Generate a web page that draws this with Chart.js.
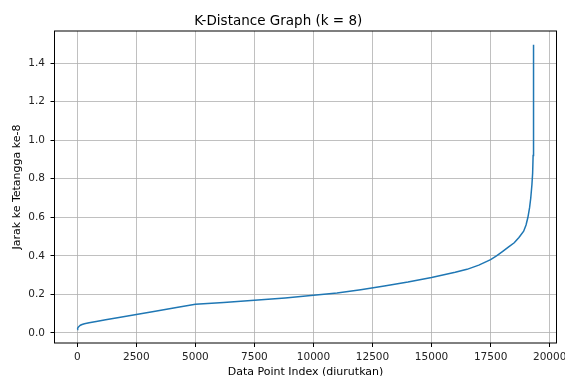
<!DOCTYPE html>
<html>
<head>
<meta charset="utf-8">
<script src="https://cdn.jsdelivr.net/npm/chart.js@4"></script>
<style>
  html, body { margin: 0; padding: 0; background: #fff; }
  #wrap { width: 565px; height: 376px; }
</style>
</head>
<body>
<div id="wrap"><canvas id="kdist" width="565" height="376"></canvas></div>
<script>
// sorted point index (x) and distance to 8th neighbour (y)
const pointIndex = [0, 15, 40, 80, 130, 200, 300, 500, 800, 1200, 1700, 2500, 3300, 4200, 5000,
  6200, 7500, 8800, 10000, 11000, 12000, 13000, 14000, 15000, 16000, 16500, 17000, 17500,
  17750, 18000, 18250, 18500, 18700, 18900, 19000, 19080, 19150, 19200, 19250, 19280,
  19300, 19310, 19318, 19325];
const kDistance = [0.018, 0.025, 0.030, 0.035, 0.040, 0.044, 0.048, 0.053, 0.060, 0.068, 0.079, 0.096, 0.113, 0.132, 0.149,
  0.158, 0.170, 0.182, 0.196, 0.207, 0.224, 0.243, 0.264, 0.288, 0.315, 0.330, 0.352, 0.380,
  0.400, 0.422, 0.445, 0.468, 0.495, 0.528, 0.560, 0.600, 0.650, 0.700, 0.770, 0.830,
  0.920, 1.020, 1.200, 1.495];

const xTickValues = [0, 2500, 5000, 7500, 10000, 12500, 15000, 17500, 20000];
const yTickValues = [0.0, 0.2, 0.4, 0.6, 0.8, 1.0, 1.2, 1.4];

Chart.defaults.font.family = 'DejaVu Sans';
Chart.defaults.color = '#222';

const frameBox = {
  id: 'frameBox',
  afterDraw(chart) {
    const a = chart.chartArea, ctx = chart.ctx;
    ctx.save();
    ctx.strokeStyle = '#000';
    ctx.lineWidth = 1;
    ctx.strokeRect(a.left, a.top, a.right - a.left, a.bottom - a.top);
    ctx.restore();
  }
};

new Chart(document.getElementById('kdist'), {
  type: 'scatter',
  data: {
    datasets: [{
      data: pointIndex.map((x, i) => ({ x: x, y: kDistance[i] })),
      showLine: true,
      borderColor: '#1f77b4',
      borderWidth: 1.5,
      pointRadius: 0,
      tension: 0
    }]
  },
  options: {
    responsive: false,
    animation: false,
    layout: { padding: { left: 0, right: 8.5, top: 0, bottom: 0 } },
    plugins: {
      legend: { display: false },
      tooltip: { enabled: false },
      title: {
        display: true,
        text: 'K-Distance Graph (k = 8)',
        color: '#000',
        font: { size: 13.5, weight: 'normal' },
        padding: { top: 12.9, bottom: 1.9 }
      }
    },
    scales: {
      x: {
        type: 'linear',
        min: -966,
        max: 20290,
        afterFit(s) { s.height = 33; s.paddingLeft = 0; s.paddingRight = 0; },
        afterBuildTicks(s) { s.ticks = xTickValues.map(v => ({ value: v })); },
        border: { display: false },
        grid: { color: '#b0b0b0', lineWidth: 0.8, tickLength: 4, tickColor: '#000', tickWidth: 1 },
        ticks: {
          autoSkip: false,
          maxRotation: 0,
          padding: 4,
          font: { size: 10.5 },
          callback: v => String(v)
        },
        title: {
          display: true,
          text: 'Data Point Index (diurutkan)',
          color: '#000',
          font: { size: 11 },
          padding: { top: 0, bottom: -3.1 }
        }
      },
      y: {
        type: 'linear',
        min: -0.052,
        max: 1.566,
        afterFit(s) { s.width = 54.5; s.paddingTop = 0; s.paddingBottom = 0; },
        afterBuildTicks(s) { s.ticks = yTickValues.map(v => ({ value: v })); },
        border: { display: false },
        grid: { color: '#b0b0b0', lineWidth: 0.8, tickLength: 4, tickColor: '#000', tickWidth: 1 },
        ticks: {
          autoSkip: false,
          padding: 5.5,
          font: { size: 10.5 },
          callback: v => v.toFixed(1)
        },
        title: {
          display: true,
          text: 'Jarak ke Tetangga ke-8',
          color: '#000',
          font: { size: 11 },
          padding: { top: 10.8, bottom: 0 }
        }
      }
    }
  },
  plugins: [frameBox]
});
</script>
</body>
</html>
